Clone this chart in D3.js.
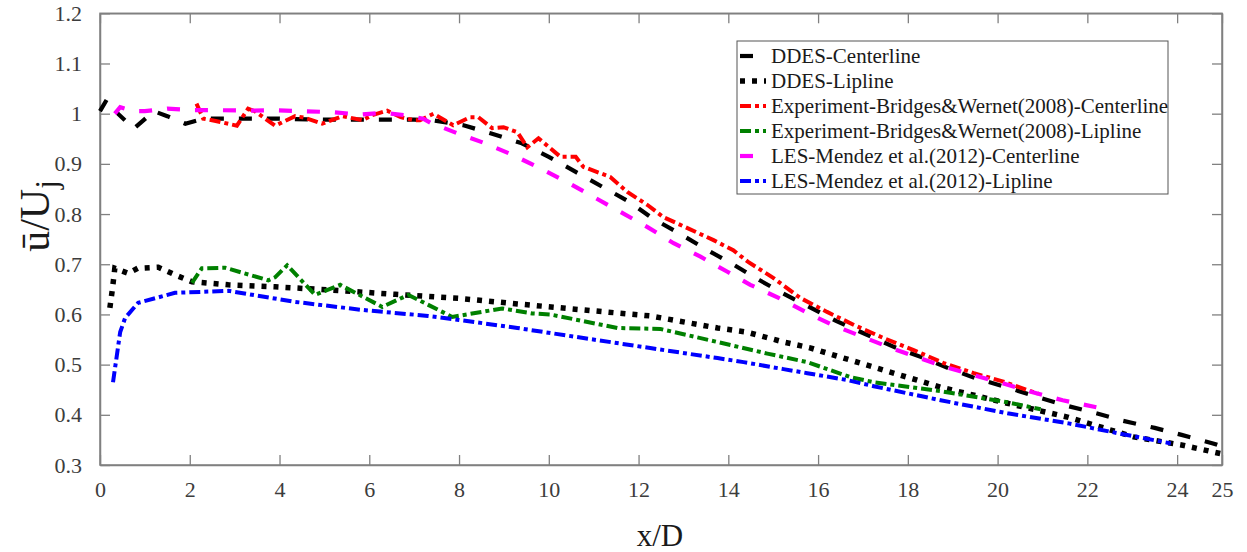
<!DOCTYPE html>
<html>
<head>
<meta charset="utf-8">
<script src="https://cdn.jsdelivr.net/npm/d3@7"></script>
<style>
  html, body { margin: 0; padding: 0; background: #fff; }
  svg { display: block; }
  text { font-family: "Liberation Serif", "DejaVu Serif", serif; }
</style>
</head>
<body>
<svg id="chart" width="1247" height="552"></svg>
<script>
// Mean axial velocity along the jet centerline and lipline
const seriesNames = [
  "DDES-Centerline",
  "DDES-Lipline",
  "Experiment-Bridges&Wernet(2008)-Centerline",
  "Experiment-Bridges&Wernet(2008)-Lipline",
  "LES-Mendez et al.(2012)-Centerline",
  "LES-Mendez et al.(2012)-Lipline"
];

const ddesCenterX = [0, 0.15, 0.4, 0.75, 1.2, 1.5, 1.9, 2.3, 3, 4, 5, 6, 7, 7.4, 8.1, 8.7, 9.4, 10, 10.6, 11.2, 11.8, 12.3, 12.9, 13.5, 14.1, 14.7, 15.2, 15.8, 16.4, 17, 17.7, 18.3, 18.9, 19.5, 20.2, 20.9, 21.5, 22.2, 22.8, 23.5, 24.1, 24.8, 25];
const ddesCenterY = [1.005, 1.028, 1.0, 0.97, 1.005, 0.995, 0.98, 0.99, 0.99, 0.99, 0.988, 0.988, 0.988, 0.987, 0.977, 0.961, 0.941, 0.914, 0.884, 0.854, 0.824, 0.792, 0.762, 0.73, 0.7, 0.668, 0.643, 0.615, 0.587, 0.563, 0.535, 0.515, 0.493, 0.473, 0.455, 0.435, 0.419, 0.403, 0.388, 0.374, 0.36, 0.343, 0.337];

const ddesLipX = [0.22, 0.28, 0.33, 0.45, 0.63, 0.84, 1.3, 1.67, 2.05, 2.86, 3.9, 5.08, 6.58, 8.0, 9.3, 10.77, 12.26, 13.76, 14.4, 15.23, 15.8, 16.57, 17.24, 18.73, 20.22, 21.58, 23.03, 24.15, 25];
const ddesLipY = [0.613, 0.653, 0.692, 0.688, 0.682, 0.692, 0.694, 0.679, 0.665, 0.659, 0.655, 0.649, 0.64, 0.632, 0.621, 0.609, 0.597, 0.573, 0.565, 0.545, 0.534, 0.513, 0.495, 0.455, 0.423, 0.395, 0.356, 0.339, 0.322];

const expCenterX = [2.15, 2.3, 2.55, 3.05, 3.3, 3.45, 3.9, 4.35, 4.55, 4.95, 5.4, 5.85, 6.06, 6.4, 6.7, 7.0, 7.13, 7.43, 7.87, 8.25, 8.43, 8.74, 8.99, 9.3, 9.52, 9.77, 10.26, 10.6, 10.77, 11.37, 11.75, 12.2, 12.55, 13.09, 13.67, 14.11, 14.45, 15.0, 15.6, 16.2, 16.8, 17.46, 18.13, 18.8, 19.47, 20.13, 20.9];
const expCenterY = [1.02, 0.99, 0.986, 0.976, 1.01, 1.005, 0.976, 0.995, 0.992, 0.98, 0.995, 0.987, 0.997, 1.006, 0.993, 0.987, 0.987, 1.0, 0.977, 0.993, 0.993, 0.971, 0.973, 0.963, 0.933, 0.951, 0.914, 0.914, 0.894, 0.874, 0.844, 0.818, 0.794, 0.772, 0.748, 0.728, 0.704, 0.673, 0.633, 0.605, 0.579, 0.553, 0.529, 0.503, 0.483, 0.466, 0.442];

const expLipX = [2.05, 2.27, 2.79, 3.75, 3.9, 4.17, 4.79, 5.35, 6.29, 6.87, 7.85, 8.96, 9.63, 10.03, 11.53, 12.49, 13.76, 14.87, 15.76, 16.72, 17.24, 18.73, 20.22, 20.96];
const expLipY = [0.663, 0.692, 0.693, 0.668, 0.674, 0.698, 0.639, 0.659, 0.615, 0.639, 0.595, 0.612, 0.602, 0.6, 0.573, 0.571, 0.545, 0.522, 0.505, 0.475, 0.465, 0.447, 0.425, 0.411];

const lesCenterX = [0.33, 0.45, 0.75, 1.0, 1.5, 2.1, 2.6, 3.3, 3.9, 4.5, 5.2, 5.8, 6.3, 6.8, 7.2, 7.36, 7.96, 8.58, 9.19, 9.81, 10.4, 11.0, 11.6, 12.2, 12.78, 13.38, 13.98, 14.49, 15.12, 15.72, 16.32, 16.95, 17.57, 18.2, 18.84, 19.47, 20.11, 20.74, 21.45, 22.2];
const lesCenterY = [1.0, 1.013, 1.005, 1.005, 1.01, 1.007, 1.007, 1.006, 1.007, 1.005, 1.003, 0.998, 1.002, 0.997, 0.99, 0.982, 0.961, 0.941, 0.918, 0.891, 0.864, 0.834, 0.804, 0.774, 0.742, 0.715, 0.685, 0.659, 0.633, 0.605, 0.579, 0.557, 0.535, 0.515, 0.495, 0.479, 0.463, 0.446, 0.429, 0.415];

const lesLipX = [0.29, 0.45, 0.56, 0.85, 1.67, 2.86, 4.35, 5.84, 7.31, 8.0, 9.3, 10.77, 12.26, 13.76, 14.34, 15.23, 15.76, 16.66, 17.24, 18.73, 20.22, 21.58, 22.7, 23.86];
const lesLipY = [0.465, 0.565, 0.593, 0.623, 0.643, 0.647, 0.625, 0.609, 0.597, 0.589, 0.573, 0.553, 0.533, 0.513, 0.505, 0.491, 0.483, 0.469, 0.457, 0.429, 0.403, 0.383, 0.363, 0.343];

const xTicks = [0, 2, 4, 6, 8, 10, 12, 14, 16, 18, 20, 22, 24, 25];
const yTicks = [0.3, 0.4, 0.5, 0.6, 0.7, 0.8, 0.9, 1.0, 1.1, 1.2];

const seriesX = [ddesCenterX, ddesLipX, expCenterX, expLipX, lesCenterX, lesLipX];
const seriesY = [ddesCenterY, ddesLipY, expCenterY, expLipY, lesCenterY, lesLipY];

// Line styles for each series
const styles = [
  { color: "#000000", dash: "13,15", width: 4.2 },
  { color: "#000000", dash: "5,7",   width: 5.5 },
  { color: "#ff0000", dash: "11,4,4,4", width: 4 },
  { color: "#008000", dash: "11,4,4,4", width: 4 },
  { color: "#ff00ff", dash: "13,15", width: 4.2 },
  { color: "#0000ff", dash: "11,4,4,4", width: 4 }
];

const svg = d3.select("#chart");
const plotL = 100, plotR = 1222, plotT = 13.3, plotB = 465;

const x = d3.scaleLinear().domain([0, 25]).range([plotL, plotR]);
const y = d3.scaleLinear().domain([0.3, 1.2]).range([plotB, plotT]);

const axisColor = "#808080";
const labelColor = "#3c3c3c";
const serif = '"Liberation Serif", "Times New Roman", serif';

// Frame
svg.append("rect")
  .attr("x", plotL).attr("y", plotT)
  .attr("width", plotR - plotL).attr("height", plotB - plotT)
  .attr("fill", "none").attr("stroke", axisColor).attr("stroke-width", 1.5);

// Axes with inward ticks on all four sides
const fmtY = d => (d === 1 ? "1" : d3.format(".1f")(d));
const axB = svg.append("g").attr("transform", `translate(0,${plotB})`)
  .call(d3.axisBottom(x).tickValues(xTicks).tickSizeInner(-10).tickSizeOuter(0).tickPadding(16).tickFormat(d3.format("d")));
const axT = svg.append("g").attr("transform", `translate(0,${plotT})`)
  .call(d3.axisTop(x).tickValues(xTicks).tickSizeInner(-10).tickSizeOuter(0).tickFormat(""));
const axL = svg.append("g").attr("transform", `translate(${plotL},0)`)
  .call(d3.axisLeft(y).tickValues(yTicks).tickSizeInner(-10).tickSizeOuter(0).tickPadding(18).tickFormat(fmtY));
const axR = svg.append("g").attr("transform", `translate(${plotR},0)`)
  .call(d3.axisRight(y).tickValues(yTicks).tickSizeInner(-10).tickSizeOuter(0).tickFormat(""));

[axB, axT, axL, axR].forEach(g => {
  g.attr("font-family", serif);
  g.select(".domain").attr("stroke", axisColor).attr("stroke-width", 1.5);
  g.selectAll(".tick line").attr("stroke", axisColor).attr("stroke-width", 1.3);
  g.selectAll(".tick text")
    .attr("fill", labelColor)
    .style("font-family", serif)
    .style("font-size", "22px");
});

// Data lines
const line = d3.line().x(d => x(d[0])).y(d => y(d[1]));
seriesX.forEach((xs, i) => {
  const pts = xs.map((v, k) => [v, seriesY[i][k]]);
  const s = styles[i];
  svg.append("path")
    .datum(pts)
    .attr("d", line)
    .attr("fill", "none")
    .attr("stroke", s.color)
    .attr("stroke-width", s.width)
    .attr("stroke-dasharray", s.dash)
    .attr("stroke-linecap", "butt")
    .attr("stroke-linejoin", "miter");
});

// Legend
const lg = svg.append("g");
lg.append("rect")
  .attr("x", 737).attr("y", 41).attr("width", 431).attr("height", 153)
  .attr("fill", "#fff").attr("stroke", "#555").attr("stroke-width", 1);
seriesNames.forEach((name, i) => {
  const cy = 56 + i * 25;
  const s = styles[i];
  lg.append("line")
    .attr("x1", 740).attr("x2", 766).attr("y1", cy).attr("y2", cy)
    .attr("stroke", s.color).attr("stroke-width", s.width)
    .attr("stroke-dasharray", s.dash);
  lg.append("text")
    .attr("x", 771).attr("y", cy + 7)
    .attr("fill", "#1a1a1a")
    .style("font-family", serif)
    .style("font-size", "21px")
    .text(name);
});

// Axis titles
svg.append("text")
  .attr("x", 660).attr("y", 546)
  .attr("text-anchor", "middle")
  .attr("fill", "#1a1a1a")
  .style("font-family", serif)
  .style("font-size", "31px")
  .text("x/D");

const yt = svg.append("text")
  .attr("transform", "translate(49,216) rotate(-90)")
  .attr("text-anchor", "middle")
  .attr("fill", "#1a1a1a")
  .style("font-family", serif)
  .style("font-size", "42px");
yt.append("tspan").text("\u016B/U");
yt.append("tspan").attr("dy", 8).style("font-size", "31px").text("j");
</script>
</body>
</html>
